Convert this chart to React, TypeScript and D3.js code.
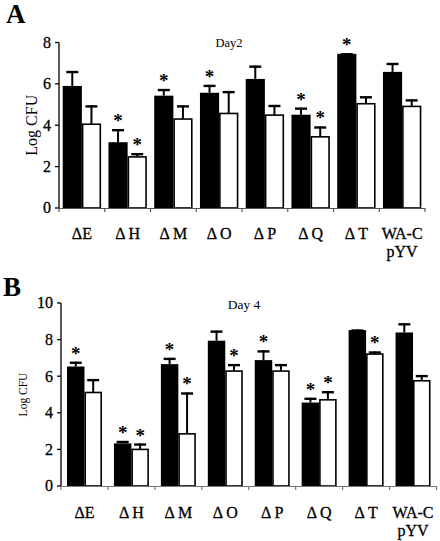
import React from "react";
import * as d3 from "d3";

const categories = ["ΔE", "Δ H", "Δ M", "Δ O", "Δ P", "Δ Q", "Δ T", "WA-C"];
const secondLine = ["", "", "", "", "", "", "", "pYV"];

const day2Black = [5.9, 3.18, 5.43, 5.57, 6.24, 4.51, 7.45, 6.58];
const day2BlackErr = [0.72, 0.63, 0.32, 0.38, 0.64, 0.34, 0.03, 0.43];
const day2White = [4.05, 2.47, 4.3, 4.57, 4.49, 3.44, 5.04, 4.91];
const day2WhiteErr = [0.91, 0.18, 0.66, 1.08, 0.49, 0.5, 0.36, 0.34];
const day2BlackStar = [0, 1, 1, 1, 0, 1, 1, 0];
const day2WhiteStar = [0, 1, 0, 0, 0, 1, 0, 0];
const day2Ticks = [0, 2, 4, 6, 8];

const day4Black = [6.53, 2.33, 6.66, 7.94, 6.88, 4.56, 8.52, 8.39];
const day4BlackErr = [0.26, 0.13, 0.34, 0.55, 0.53, 0.26, 0.03, 0.5];
const day4White = [5.11, 2.0, 2.85, 6.28, 6.28, 4.71, 7.21, 5.75];
const day4WhiteErr = [0.73, 0.32, 2.26, 0.38, 0.38, 0.47, 0.14, 0.31];
const day4BlackStar = [1, 1, 1, 0, 1, 1, 0, 0];
const day4WhiteStar = [0, 1, 1, 1, 0, 1, 1, 0];
const day4Ticks = [0, 2, 4, 6, 8, 10];

const serif = "Liberation Serif";

type PanelProps = {
  letter: string;
  letterX: number;
  letterY: number;
  title: string;
  titleX: number;
  titleY: number;
  titleSize: number;
  left: number;
  right: number;
  top: number;
  bottom: number;
  yMax: number;
  ticks: number[];
  pad: number;
  black: number[];
  blackErr: number[];
  white: number[];
  whiteErr: number[];
  blackStar: number[];
  whiteStar: number[];
  labelY: number;
  yLabelX: number;
  yLabelSize: number;
  xAxisColor: string;
};

function Panel(p: PanelProps) {
  const x0 = d3.scaleBand<string>().domain(categories).range([p.left, p.right]).padding(0);
  const step = x0.step();
  const x1 = d3.scaleBand<string>().domain(["black", "white"]).range([p.pad, step - p.pad]).padding(0);
  const y = d3.scaleLinear().domain([0, p.yMax]).range([p.bottom, p.top]);
  const bw = x1.bandwidth();
  const capW = 12;
  const series = [
    { key: "black", vals: p.black, err: p.blackErr, star: p.blackStar },
    { key: "white", vals: p.white, err: p.whiteErr, star: p.whiteStar },
  ];
  const boundaries = d3.range(categories.length + 1).map((i) => p.left + i * step);
  const thick = { stroke: "#000", strokeWidth: 0.3 };
  return (
    <g style={{ fontFamily: serif }}>
      <text x={p.letterX} y={p.letterY} fontWeight="bold" fontSize={27}>
        {p.letter}
      </text>
      <text x={p.titleX} y={p.titleY} textAnchor="middle" fontSize={p.titleSize}>
        {p.title}
      </text>
      {series.map((s) =>
        categories.map((c, i) => {
          const bx = (x0(c) as number) + (x1(s.key) as number);
          const cx = bx + bw / 2;
          const yTop = y(s.vals[i]);
          const yErr = y(s.vals[i] + s.err[i]);
          return (
            <g key={s.key + c}>
              <line x1={cx} x2={cx} y1={yTop} y2={yErr} stroke="#000" strokeWidth={2} />
              <line x1={cx - capW / 2} x2={cx + capW / 2} y1={yErr + 1} y2={yErr + 1} stroke="#000" strokeWidth={2.4} />
              <rect
                x={s.key === "black" ? bx : bx + 0.75}
                y={yTop}
                width={s.key === "black" ? bw : bw - 1.5}
                height={p.bottom - yTop}
                fill={s.key === "black" ? "#000" : "#fff"}
                stroke="#000"
                strokeWidth={s.key === "black" ? 0 : 1.6}
              />
              {s.star[i] ? (
                <text x={cx} y={yErr - 2} textAnchor="middle" fontWeight="bold" fontSize={19}>
                  *
                </text>
              ) : null}
            </g>
          );
        })
      )}
      <line x1={p.left} x2={p.left} y1={p.top} y2={p.bottom} stroke="#000" strokeWidth={1.3} />
      {p.ticks.map((t) => (
        <g key={t}>
          <line x1={p.left - 4} x2={p.left} y1={y(t)} y2={y(t)} stroke="#000" strokeWidth={1.3} />
          <text x={p.left - 8} y={y(t)} dy="0.34em" textAnchor="end" fontSize={16} {...thick}>
            {t}
          </text>
        </g>
      ))}
      <line x1={p.left} x2={p.right} y1={p.bottom + 0.5} y2={p.bottom + 0.5} stroke={p.xAxisColor} strokeWidth={1.2} />
      {boundaries.map((b, i) => (
        <line key={i} x1={b} x2={b} y1={p.bottom} y2={p.bottom + 4} stroke={p.xAxisColor} strokeWidth={1.2} />
      ))}
      {categories.map((c, i) => {
        const cx = (x0(c) as number) + step / 2;
        return (
          <g key={c}>
            <text x={cx} y={p.labelY} textAnchor="middle" fontSize={16} {...thick}>
              {c}
            </text>
            {secondLine[i] ? (
              <text x={cx} y={p.labelY + 18} textAnchor="middle" fontSize={16} {...thick}>
                {secondLine[i]}
              </text>
            ) : null}
          </g>
        );
      })}
      <text
        transform={`translate(${p.yLabelX},${(p.top + p.bottom) / 2}) rotate(-90)`}
        textAnchor="middle"
        dy="0.35em"
        fontSize={p.yLabelSize}
      >
        Log CFU
      </text>
    </g>
  );
}

export default function App() {
  return (
    <svg width={440} height={541} style={{ position: "absolute", left: 0, top: 0, background: "#fff" }}>
      <rect x={0} y={0} width={440} height={541} fill="#fff" />
      <Panel
        letter="A"
        letterX={6}
        letterY={23}
        title="Day2"
        titleX={229}
        titleY={47}
        titleSize={12.5}
        left={59}
        right={425}
        top={42.5}
        bottom={208}
        yMax={8}
        ticks={day2Ticks}
        pad={3.7}
        black={day2Black}
        blackErr={day2BlackErr}
        white={day2White}
        whiteErr={day2WhiteErr}
        blackStar={day2BlackStar}
        whiteStar={day2WhiteStar}
        labelY={239}
        yLabelX={31}
        yLabelSize={16}
        xAxisColor="#555"
      />
      <Panel
        letter="B"
        letterX={3}
        letterY={296}
        title="Day 4"
        titleX={244}
        titleY={309}
        titleSize={13.5}
        left={61}
        right={436.5}
        top={303}
        bottom={486}
        yMax={10}
        ticks={day4Ticks}
        pad={6}
        black={day4Black}
        blackErr={day4BlackErr}
        white={day4White}
        whiteErr={day4WhiteErr}
        blackStar={day4BlackStar}
        whiteStar={day4WhiteStar}
        labelY={518}
        yLabelX={23}
        yLabelSize={11.5}
        xAxisColor="#777"
      />
    </svg>
  );
}
